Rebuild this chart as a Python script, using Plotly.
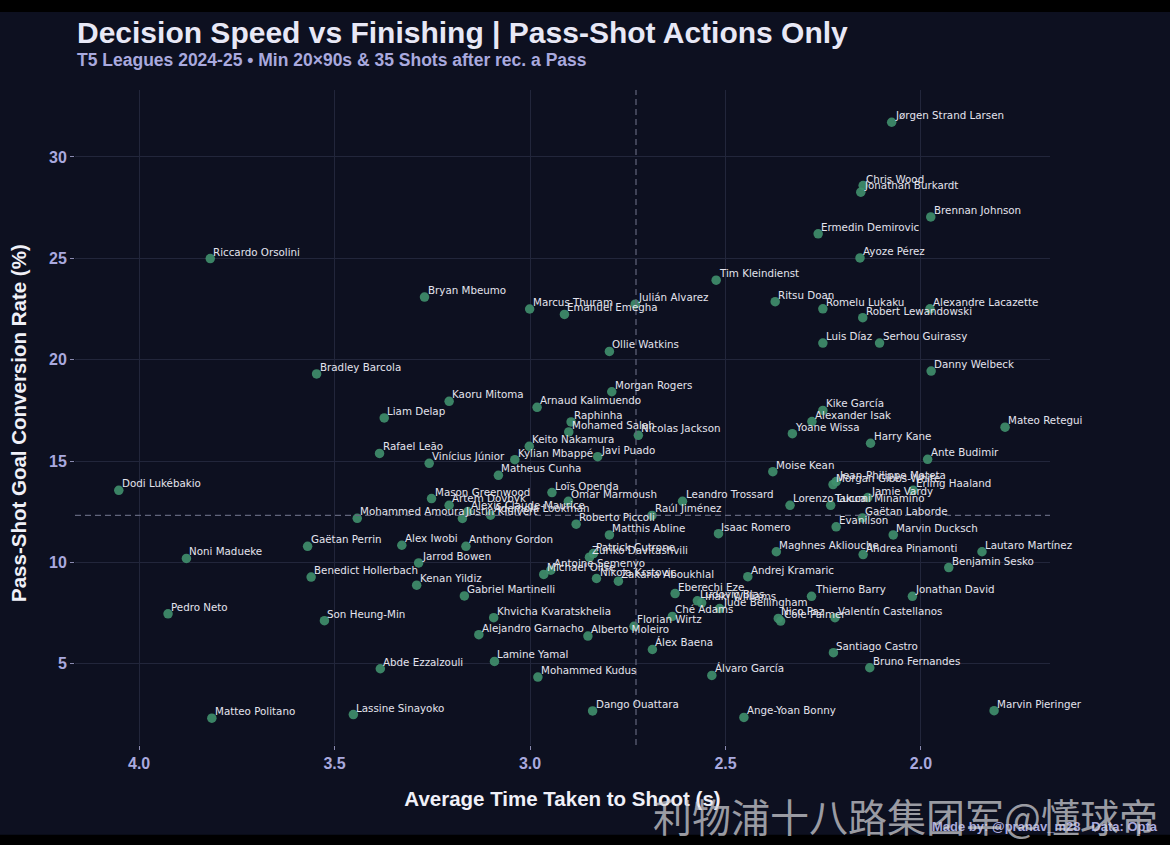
import plotly.graph_objects as go

# players, average seconds to shoot after receiving a pass, conversion rate (%)
players = [
    "Jørgen Strand Larsen", "Chris Wood", "Jonathan Burkardt", "Brennan Johnson",
    "Ermedin Demirovic", "Ayoze Pérez", "Tim Kleindienst", "Riccardo Orsolini",
    "Bryan Mbeumo", "Marcus Thuram", "Emanuel Emegha", "Julián Alvarez",
    "Ritsu Doan", "Romelu Lukaku", "Alexandre Lacazette", "Robert Lewandowski",
    "Luis Díaz", "Serhou Guirassy", "Ollie Watkins", "Danny Welbeck",
    "Bradley Barcola", "Morgan Rogers", "Kaoru Mitoma", "Arnaud Kalimuendo",
    "Kike García", "Liam Delap", "Alexander Isak", "Raphinha",
    "Mohamed Salah", "Nicolas Jackson", "Yoane Wissa", "Mateo Retegui",
    "Harry Kane", "Keito Nakamura", "Rafael Leão", "Kylian Mbappé",
    "Javi Puado", "Vinícius Júnior", "Ante Budimir", "Matheus Cunha",
    "Moise Kean", "Dodi Lukébakio", "Jean-Philippe Mateta", "Morgan Gibbs-White",
    "Erling Haaland", "Jamie Vardy", "Mason Greenwood", "Loïs Openda",
    "Omar Marmoush", "Leandro Trossard", "Artem Dovbyk", "Alexis Claude-Maurice",
    "Ademola Lookman", "Lorenzo Lucca", "Takumi Minamino", "Mohammed Amoura",
    "Justin Kluivert", "Raúl Jiménez", "Gaëtan Laborde", "Roberto Piccoli",
    "Evanilson", "Matthis Abline", "Isaac Romero", "Marvin Ducksch",
    "Gaëtan Perrin", "Alex Iwobi", "Anthony Gordon", "Patrick Cutrone",
    "Zuriko Davitashvili", "Maghnes Akliouche", "Andrea Pinamonti", "Lautaro Martínez",
    "Noni Madueke", "Jarrod Bowen", "Benjamin Sesko", "Antoine Semenyo",
    "Michael Olise", "Nikola Krstovic", "Zakaria Aboukhlal", "Andrej Kramaric",
    "Benedict Hollerbach", "Kenan Yildiz", "Eberechi Eze", "Thierno Barry",
    "Jonathan David", "Gabriel Martinelli", "Ludovic Blas", "Iñaki Williams",
    "Jude Bellingham", "Pedro Neto", "Son Heung-Min", "Khvicha Kvaratskhelia",
    "Ché Adams", "Nico Paz", "Cole Palmer", "Valentín Castellanos",
    "Florian Wirtz", "Alejandro Garnacho", "Alberto Moleiro", "Álex Baena",
    "Santiago Castro", "Lamine Yamal", "Abde Ezzalzouli", "Bruno Fernandes",
    "Mohammed Kudus", "Álvaro García", "Marvin Pieringer", "Lassine Sinayoko",
    "Dango Ouattara", "Ange-Yoan Bonny", "Matteo Politano",
]

time_to_shoot = [
    2.075, 2.148, 2.154, 1.975,
    2.263, 2.156, 2.524, 3.818,
    3.270, 3.001, 2.912, 2.731,
    2.373, 2.251, 1.977, 2.149,
    2.251, 2.106, 2.797, 1.974,
    3.546, 2.791, 3.207, 2.982,
    2.251, 3.373, 2.279, 2.895,
    2.901, 2.723, 2.329, 1.785,
    2.129, 3.002, 3.385, 3.039,
    2.827, 3.258, 1.983, 3.081,
    2.379, 4.052, 2.217, 2.225,
    2.020, 2.136, 3.252, 2.944,
    2.902, 2.610, 3.207, 3.159,
    3.101, 2.335, 2.231, 3.442,
    3.173, 2.688, 2.150, 2.882,
    2.217, 2.797, 2.518, 2.071,
    3.569, 3.328, 3.164, 2.838,
    2.848, 2.370, 2.148, 1.844,
    3.879, 3.285, 1.929, 2.947,
    2.965, 2.830, 2.774, 2.443,
    3.560, 3.290, 2.629, 2.280,
    2.022, 3.168, 2.572, 2.561,
    2.515, 3.926, 3.526, 3.093,
    2.636, 2.365, 2.359, 2.220,
    2.734, 3.131, 2.852, 2.687,
    2.224, 3.091, 3.383, 2.131,
    2.980, 2.535, 1.813, 3.452,
    2.840, 2.453, 3.814,
]

conversion = [
    31.71, 28.59, 28.26, 27.04,
    26.21, 25.02, 23.92, 24.99,
    23.09, 22.50, 22.23, 22.74,
    22.86, 22.51, 22.51, 22.07,
    20.82, 20.82, 20.41, 19.44,
    19.30, 18.42, 17.95, 17.65,
    17.50, 17.13, 16.95, 16.93,
    16.44, 16.27, 16.35, 16.67,
    15.88, 15.73, 15.38, 15.07,
    15.22, 14.89, 15.09, 14.30,
    14.48, 13.56, 13.99, 13.84,
    13.56, 13.20, 13.15, 13.45,
    13.02, 13.02, 12.82, 12.51,
    12.33, 12.82, 12.82, 12.18,
    12.17, 12.32, 12.20, 11.89,
    11.76, 11.36, 11.42, 11.36,
    10.80, 10.85, 10.80, 10.44,
    10.26, 10.53, 10.39, 10.53,
    10.20, 9.98, 9.75, 9.62,
    9.41, 9.21, 9.08, 9.30,
    9.28, 8.88, 8.47, 8.33,
    8.33, 8.35, 8.11, 8.01,
    7.73, 7.47, 7.13, 7.28,
    7.34, 7.24, 7.11, 7.28,
    6.85, 6.44, 6.37, 5.71,
    5.55, 5.12, 4.76, 4.81,
    4.35, 4.43, 2.69, 2.50,
    2.68, 2.36, 2.32,
]

avg_time = 2.729
avg_conversion = 12.32

x_ticks = [4.0, 3.5, 3.0, 2.5, 2.0]
y_ticks = [5, 10, 15, 20, 25, 30]

BG = "#0d1020"
GRID = "#22263b"
LAVENDER = "#a9a9de"

fig = go.Figure()

fig.add_trace(
    go.Scatter(
        x=time_to_shoot,
        y=conversion,
        mode="markers",
        marker=dict(size=9.5, color="#40906d", opacity=0.9, line=dict(width=0)),
        hoverinfo="skip",
        showlegend=False,
    )
)

# player labels
for name, xv, yv in zip(players, time_to_shoot, conversion):
    fig.add_annotation(
        x=xv, y=yv, text=name, showarrow=False,
        xanchor="left", yanchor="middle", xshift=1, yshift=7,
        font=dict(family="DejaVu Sans", size=10.3, color="#e4e4ee"),
    )

# average lines
fig.add_shape(type="line", xref="x", yref="paper", x0=avg_time, x1=avg_time, y0=0, y1=1,
              line=dict(color="#62657c", width=1.2, dash="6px,4px"))
fig.add_shape(type="line", xref="paper", yref="y", x0=0, x1=1, y0=avg_conversion, y1=avg_conversion,
              line=dict(color="#62657c", width=1.2, dash="6px,4px"))

# dark band of the screenshot at top and bottom
fig.add_shape(type="rect", xref="paper", yref="paper", x0=-0.1, x1=1.2, y0=1.119, y1=1.15,
              line=dict(width=0), fillcolor="#000000", layer="below")
fig.add_shape(type="rect", xref="paper", yref="paper", x0=-0.1, x1=1.2, y0=-0.16, y1=-0.137,
              line=dict(width=0), fillcolor="#000000", layer="below")

fig.add_annotation(
    xref="paper", yref="paper", x=0, y=1.0885, xanchor="left", yanchor="middle",
    text="<b>Decision Speed vs Finishing | Pass-Shot Actions Only</b>", showarrow=False,
    font=dict(family="Liberation Sans", size=30, color="#e8e8f6"),
)
fig.add_annotation(
    xref="paper", yref="paper", x=0, y=1.0458, xanchor="left", yanchor="middle",
    text="<b>T5 Leagues 2024-25 • Min 20×90s & 35 Shots after rec. a Pass</b>", showarrow=False,
    font=dict(family="Liberation Sans", size=17.5, color=LAVENDER),
)
# y axis title placed by hand so it sits close to the left edge
fig.add_annotation(
    xref="paper", yref="paper", x=-0.0585, y=0.4916, xanchor="center", yanchor="middle",
    text="<b>Pass-Shot Goal Conversion Rate (%)</b>", showarrow=False, textangle=-90,
    font=dict(family="Liberation Sans", size=20.5, color="#f0f0f8"),
)
fig.add_annotation(
    xref="paper", yref="paper", x=1.113, y=-0.1237, xanchor="right", yanchor="middle",
    text="<b>Made by: @pranav_m28   Data: Opta</b>", showarrow=False,
    font=dict(family="Liberation Sans", size=13, color=LAVENDER),
)
fig.add_annotation(
    xref="paper", yref="paper", x=1.113, y=-0.107, xanchor="right", yanchor="middle",
    text="利物浦十八路集团军@懂球帝", showarrow=False,
    font=dict(family="Noto Sans CJK SC", size=39, color="rgba(210,210,215,0.72)"),
)

fig.update_layout(
    width=1170,
    height=845,
    margin=dict(l=75, r=120, t=90, b=100),
    paper_bgcolor=BG,
    plot_bgcolor=BG,
    font=dict(family="Liberation Sans", color=LAVENDER),
    xaxis=dict(
        range=[4.164, 1.670],
        tickvals=x_ticks,
        ticktext=[f"{v:.1f}" for v in x_ticks],
        tickfont=dict(size=16, color=LAVENDER, family="Liberation Sans", weight="bold"),
        ticks="outside", ticklen=4, tickcolor="#8a8ab0",
        showgrid=True, gridcolor=GRID, gridwidth=1,
        zeroline=False, showline=False,
        title=dict(text="<b>Average Time Taken to Shoot (s)</b>", standoff=20,
                   font=dict(size=20.5, color="#f0f0f8", family="Liberation Sans")),
    ),
    yaxis=dict(
        range=[1.0, 33.3],
        tickvals=y_ticks,
        tickfont=dict(size=16, color=LAVENDER, family="Liberation Sans", weight="bold"),
        ticks="outside", ticklen=4, tickcolor="#8a8ab0",
        showgrid=True, gridcolor=GRID, gridwidth=1,
        zeroline=False, showline=False,
    ),
)

fig.write_html("out.html", config={"displayModeBar": False},
               post_script="document.body.style.margin='0';")
